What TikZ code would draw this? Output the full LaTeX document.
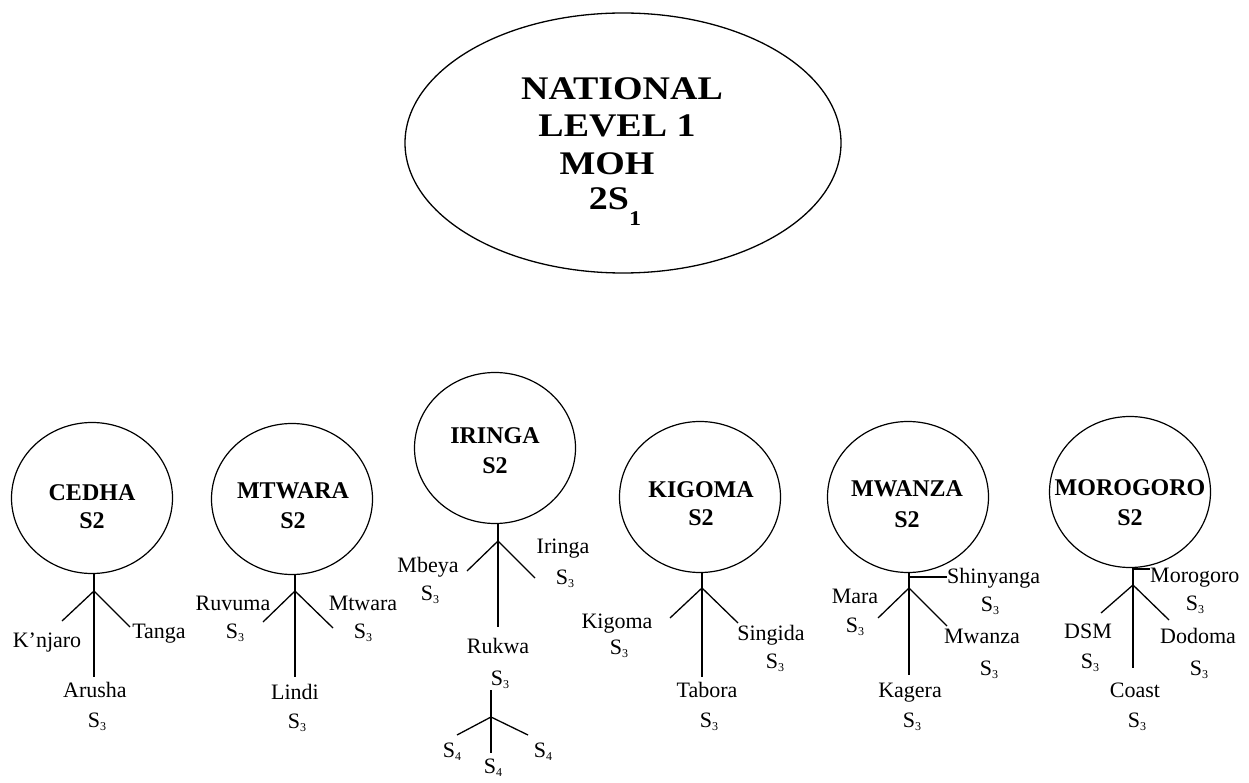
\documentclass[tikz,border=0pt]{standalone}
\usepackage{fontspec}
\setmainfont{Liberation Serif}
\usepackage{graphicx}
\usetikzlibrary{shapes.geometric}
\newcommand\lowsub[1]{\raisebox{-3pt}{\fontsize{12}{12}\selectfont #1}}
\newcommand\Sthree{S\lowsub{3}}
\newcommand\Sfour{S\lowsub{4}}
\newcommand\natwide[1]{\scalebox{1.15}[1]{#1}}
\begin{document}
\begin{tikzpicture}[x=1pt,y=-1pt,
  region/.style={ellipse, draw, line width=1.2pt, minimum width=161pt, minimum height=151pt, inner sep=0pt},
  rtext/.style={font=\bfseries\fontsize{24}{24}\selectfont, anchor=base, inner sep=0pt},
  lab/.style={font=\fontsize{22}{22}\selectfont, anchor=base, inner sep=0pt},
  labw/.style={lab, anchor=base west},
  nat/.style={font=\bfseries\fontsize{33}{33}\selectfont, anchor=base, inner sep=0pt},
  conn/.style={line width=1.3pt},
  stub/.style={line width=2.8pt}]
\useasboundingbox (0,0) rectangle (1249,783);

% National
\node[ellipse, draw, line width=1.3pt, minimum width=436pt, minimum height=260pt, inner sep=0pt] (nat) at (623,143) {};
\node[nat] (n1) at (622,100) {\natwide{NATIONAL}};
\node[nat] (n2) at (617,137) {\natwide{LEVEL 1}};
\node[nat] (n3) at (607,175) {\natwide{MOH}};
\node[nat] (n4) at (615,210) {\natwide{2S\raisebox{-16pt}{\fontsize{21}{21}\selectfont 1}}};

% CEDHA
\node[region] (c1) at (92,498) {};
\node[rtext] (c1a) at (92,500) {CEDHA};
\node[rtext] (c1b) at (92,528) {S2};
\coordinate (j1) at (94,591);
\coordinate (l1) at (62,621);
\coordinate (r1) at (130,627);
\coordinate (d1) at (94,677);
\draw[conn] (j1 |- c1.south) -- (j1);
\draw[conn] (j1) -- (l1);
\draw[conn] (j1) -- (r1);
\draw[conn] (j1) -- (d1);
\node[lab] (kn) at (47,647) {K’njaro};
\node[lab] (ta) at (159,638) {Tanga};
\node[lab] (ar) at (95,697) {Arusha};
\node[lab] (ars) at (97,727) {\Sthree};

% MTWARA
\node[region] (c2) at (292,499) {};
\node[rtext] (c2a) at (293,498) {MTWARA};
\node[rtext] (c2b) at (293,528) {S2};
\coordinate (j2) at (295,591);
\coordinate (l2) at (263,622);
\coordinate (r2) at (333,628);
\coordinate (d2) at (295,677);
\draw[conn] (j2 |- c2.south) -- (j2);
\draw[conn] (j2) -- (l2);
\draw[conn] (j2) -- (r2);
\draw[conn] (j2) -- (d2);
\node[lab] (ru) at (233,610) {Ruvuma};
\node[lab] (rus) at (235,638) {\Sthree};
\node[lab] (mt) at (363,610) {Mtwara};
\node[lab] (mts) at (363,638) {\Sthree};
\node[lab] (li) at (295,699) {Lindi};
\node[lab] (lis) at (297,728) {\Sthree};

% IRINGA
\node[region] (c3) at (495,448) {};
\node[rtext] (c3a) at (495,443) {IRINGA};
\node[rtext] (c3b) at (495,473) {S2};
\coordinate (j3) at (498,541);
\coordinate (l3) at (467,571);
\coordinate (r3) at (535,578);
\coordinate (d3) at (498,627);
\draw[conn] (j3 |- c3.south) -- (j3);
\draw[conn] (j3) -- (l3);
\draw[conn] (j3) -- (r3);
\draw[conn] (j3) -- (d3);
\node[lab] (mb) at (428,572) {Mbeya};
\node[lab] (mbs) at (430,600) {\Sthree};
\node[lab] (ir) at (563,553) {Iringa};
\node[lab] (irs) at (565,584) {\Sthree};
\node[lab] (rk) at (498,653) {Rukwa};
\node[lab] (rks) at (500,685) {\Sthree};
\coordinate (t3) at (491,690);
\coordinate (k3) at (491,717);
\coordinate (kl) at (457,735);
\coordinate (kr) at (528,735);
\coordinate (kd) at (491,753);
\draw[conn] (t3) -- (k3);
\draw[conn] (k3) -- (kl);
\draw[conn] (k3) -- (kr);
\draw[conn] (k3) -- (kd);
\node[lab] (f1) at (452,757) {\Sfour};
\node[lab] (f2) at (543,757) {\Sfour};
\node[lab] (f3) at (493,773) {\Sfour};

% KIGOMA
\node[region] (c4) at (700,497) {};
\node[rtext] (c4a) at (701,497) {KIGOMA};
\node[rtext] (c4b) at (701,525) {S2};
\coordinate (j4) at (702,588);
\coordinate (l4) at (670,618);
\coordinate (r4) at (738,623);
\coordinate (d4) at (702,677);
\draw[conn] (j4 |- c4.south) -- (j4);
\draw[conn] (j4) -- (l4);
\draw[conn] (j4) -- (r4);
\draw[conn] (j4) -- (d4);
\node[lab] (kg) at (617,628) {Kigoma};
\node[lab] (kgs) at (619,654) {\Sthree};
\node[lab] (si) at (771,640) {Singida};
\node[lab] (sis) at (775,668) {\Sthree};
\node[lab] (tb) at (707,697) {Tabora};
\node[lab] (tbs) at (709,727) {\Sthree};

% MWANZA
\node[region] (c5) at (908,497) {};
\node[rtext] (c5a) at (907,496) {MWANZA};
\node[rtext] (c5b) at (907,527) {S2};
\coordinate (j5) at (909,588);
\coordinate (s5) at (909,577);
\coordinate (l5) at (878,618);
\coordinate (r5) at (947,626);
\coordinate (d5) at (909,675);
\draw[conn] (j5 |- c5.south) -- (j5);
\draw[conn] (j5) -- (l5);
\draw[conn] (j5) -- (r5);
\draw[conn] (j5) -- (d5);
\node[labw] (sh) at (947,583) {Shinyanga};
\node[lab] (shs) at (990,611) {\Sthree};
\draw[conn] (s5) -- (s5 -| sh.west);
\draw[stub] (s5) -- ++(17,0);
\node[lab] (ma) at (855,603) {Mara};
\node[lab] (mas) at (855,632) {\Sthree};
\node[lab] (mw) at (982,643) {Mwanza};
\node[lab] (mws) at (989,675) {\Sthree};
\node[lab] (kag) at (910,697) {Kagera};
\node[lab] (kags) at (912,727) {\Sthree};

% MOROGORO
\node[region] (c6) at (1130,492) {};
\node[rtext] (c6a) at (1130,495) {MOROGORO};
\node[rtext] (c6b) at (1130,525) {S2};
\coordinate (j6) at (1133,585);
\coordinate (s6) at (1133,569);
\coordinate (l6) at (1101,613);
\coordinate (r6) at (1169,620);
\coordinate (d6) at (1133,668);
\draw[conn] (j6 |- c6.south) -- (j6);
\draw[conn] (j6) -- (l6);
\draw[conn] (j6) -- (r6);
\draw[conn] (j6) -- (d6);
\node[labw] (mo) at (1150,582) {Morogoro};
\node[lab] (mos) at (1195,610) {\Sthree};
\draw[conn] (s6) -- (s6 -| mo.west);
\draw[stub] (s6) -- ++(14,0);
\node[lab] (ds) at (1088,638) {DSM};
\node[lab] (dss) at (1090,668) {\Sthree};
\node[lab] (dd) at (1198,643) {Dodoma};
\node[lab] (dds) at (1199,675) {\Sthree};
\node[lab] (co) at (1135,697) {Coast};
\node[lab] (cos) at (1137,727) {\Sthree};
\end{tikzpicture}
\end{document}
